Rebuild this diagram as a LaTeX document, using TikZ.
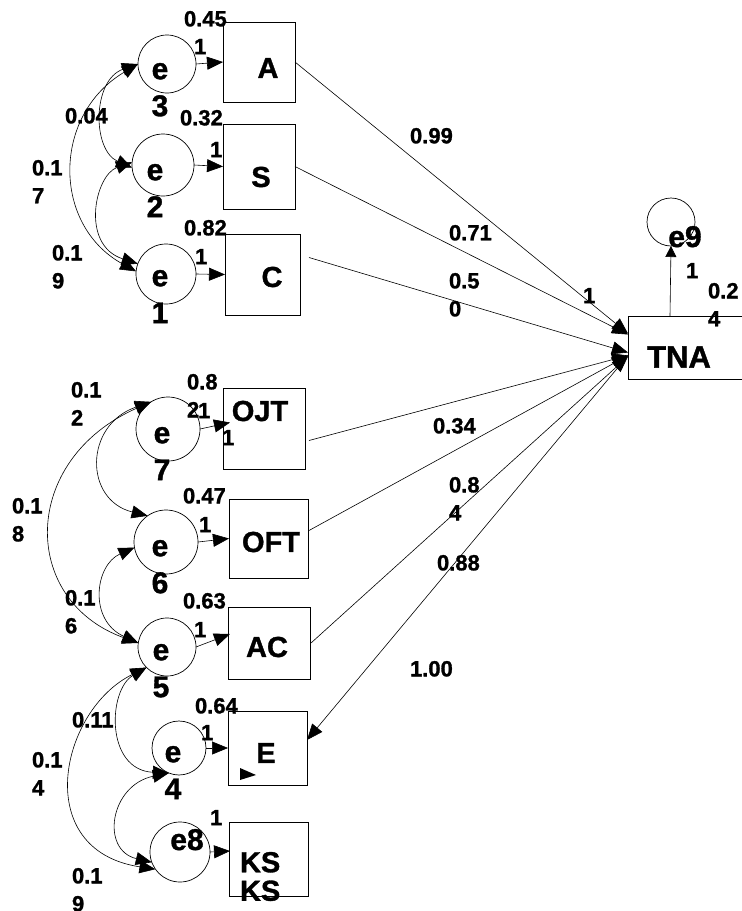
\documentclass[tikz,border=0pt]{standalone}
\usepackage{fontspec}
\setmainfont{Liberation Sans}[BoldFont={Liberation Sans Bold},BoldFeatures={FakeBold=1.2}]
\usetikzlibrary{arrows.meta,calc}
\begin{document}
\begin{tikzpicture}[x=1pt,y=-1pt,
  every node/.style={inner sep=0pt,outer sep=0pt},
  obs/.style={draw,line width=0.8pt,rectangle},
  err/.style={draw,circle,line width=0.7pt},
  boxlab/.style={font=\fontsize{29}{28.5}\selectfont\bfseries},
  elab/.style={font=\fontsize{30}{37}\selectfont\bfseries,align=center,anchor=north},
  ename/.style={font=\fontsize{30}{30}\selectfont\bfseries,anchor=base},
  num/.style={font=\fontsize{22}{28}\selectfont\bfseries,align=left,anchor=north west},
  reg/.style={line width=0.6pt,-{Triangle[length=16pt,width=13pt]}},
  cov/.style={line width=0.6pt,{Triangle[length=16pt,width=13pt]}-{Triangle[length=16pt,width=13pt]}},
]
\clip (0,0) rectangle (742,911);
\fill[white] (0,0) rectangle (742,911);

% observed variables
\node[obs,minimum width=72pt,minimum height=80pt] (A)   at (259,62) {};
\node[obs,minimum width=72pt,minimum height=85pt] (S)   at (259,166.5) {};
\node[obs,minimum width=75pt,minimum height=81pt] (C)   at (262.5,274.5) {};
\node[obs,minimum width=82pt,minimum height=81pt] (OJT) at (264,428.5) {};
\node[obs,minimum width=79pt,minimum height=79pt] (OFT) at (268.5,538.5) {};
\node[obs,minimum width=82pt,minimum height=72pt] (AC)  at (269,643) {};
\node[obs,minimum width=79pt,minimum height=74pt] (E)   at (267.5,748) {};
\node[obs,minimum width=79pt,minimum height=74pt] (KS)  at (268.5,859) {};
\node[obs,minimum width=142pt,minimum height=63pt] (TNA) at (699,347.5) {};

\node[boxlab] at (268,68) {A};
\node[boxlab] at (261,177) {S};
\node[boxlab] at (272,277) {C};
\node[boxlab] at (260,411) {OJT};
\node[boxlab] at (271,542) {OFT};
\node[boxlab] at (267,647) {AC};
\node[boxlab] at (266,753) {E};
\node[boxlab,align=left,anchor=north west] at (240,852) {KS\\KS};
\node[font=\fontsize{31}{31}\selectfont\bfseries] at (679,357) {TNA};

% error terms
\node[err,minimum size=58pt] (e3) at (167,64) {};
\node[err,minimum size=62pt] (e2) at (163,165) {};
\node[err,minimum size=60pt] (e1) at (166,274) {};
\node[err,minimum size=64pt] (e7) at (168,429) {};
\node[err,minimum size=64pt] (e6) at (166,542) {};
\node[err,minimum size=58pt] (e5) at (167,647) {};
\node[err,minimum size=54pt] (e4) at (179,748) {};
\node[err,minimum size=60pt] (e8) at (180,852) {};
\node[err,minimum size=48pt] (e9) at (671,222) {};

\node[elab] at (160,63) {e\\3};
\node[elab] at (155,164) {e\\2};
\node[elab] at (160,270) {e\\1};
\node[elab] at (162,427) {e\\7};
\node[elab] at (160,540) {e\\6};
\node[elab] at (161,644) {e\\5};
\node[elab] at (173,746) {e\\4};
\node[ename] at (187,850) {e8};
\node[ename] at (685,247) {e9};

% unit loadings from error terms
\draw[reg] (e3.east) -- (A.west);
\draw[reg] (e2.east) -- (S.west);
\draw[reg] (e1.east) -- (C.west);
\draw[reg] (e7.east) -- ($(OJT.west)+(7,-6)$);
\draw[reg] (e6.east) -- (OFT.west);
\draw[reg] (e5.east) -- ($(AC.west)+(2,-9)$);
\draw[reg] (e4.east) -- (E.west);
\draw[reg] (e8.east) -- ($(KS.west)+(1,-8)$);
\draw[line width=0.6pt,-{Triangle[length=11pt,width=11pt]}] ($(TNA.north)+(-29,0)$) -- (e9.south);

% paths into TNA
\draw[reg] (A.east) -- ($(TNA.west)+(0,-14)$);
\draw[reg] (S.east) -- ($(TNA.west)+(0,-13)$);
\draw[reg] ($(C.east)+(9,-17)$) -- ($(TNA.west)+(0,5)$);
\draw[reg] ($(OJT.east)+(4,12)$) -- ($(TNA.west)+(0,8)$);
\draw[reg] ($(OFT.east)+(1,-8)$) -- ($(TNA.west)+(0,8)$);
\draw[reg] ($(AC.east)+(1,0)$) -- ($(TNA.west)+(0,9)$);
\draw[reg] ($(TNA.west)+(0,8)$) -- ($(E.east)+(0,-8)$);
\fill (240,768) -- (256,775) -- (240,780) -- cycle;

% covariances, upper block
\draw[cov] (e3.west) .. controls (92,80) and (92,150) .. (e2.185);
\draw[cov] (e3.west) .. controls (52,115) and (52,225) .. (e1.175);
\draw[cov] (e2.175) .. controls (95,175) and (80,245) .. (e1.160);

% covariances, lower block
\draw[cov] (e7.122) .. controls (84,425) and (84,500) .. (e6.125);
\draw[cov] (e7.122) .. controls (20,460) and (20,600) .. (e5.172);
\draw[cov] (e6.190) .. controls (95,565) and (88,620) .. (e5.172);
\draw[cov] (e5.225) .. controls (108,690) and (105,770) .. (e4.248);
\draw[cov] (e5.225) .. controls (60,710) and (30,850) .. (e8.215);
\draw[cov] (e4.248) .. controls (110,785) and (100,850) .. (e8.200);

% estimates
\node[num] at (184,11) {0.45};
\node[num] at (194,39) {1};
\node[num] at (180,110) {0.32};
\node[num] at (210,142) {1};
\node[num] at (184,220) {0.82};
\node[num] at (195,249) {1};
\node[num] at (65,108) {0.04};
\node[num] at (32,160) {0.1\\7};
\node[num] at (52,245) {0.1\\9};
\node[num] at (410,128) {0.99};
\node[num] at (449,225) {0.71};
\node[num] at (449,273) {0.5\\0};
\node[num] at (583,288) {1};
\node[num] at (686,263) {1};
\node[num] at (708,283) {0.2\\4};
\node[num] at (187,374) {0.8\\2};
\node[num] at (198,403) {1};
\node[num] at (222,430) {1};
\node[num] at (183,488) {0.47};
\node[num] at (199,517) {1};
\node[num] at (183,593) {0.63};
\node[num] at (194,622) {1};
\node[num] at (71,382) {0.1\\2};
\node[num] at (12,498) {0.1\\8};
\node[num] at (65,590) {0.1\\6};
\node[num] at (72,712) {0.11};
\node[num] at (32,752) {0.1\\4};
\node[num] at (72,868) {0.1\\9};
\node[num] at (195,698) {0.64};
\node[num] at (201,725) {1};
\node[num] at (210,810) {1};
\node[num] at (433,418) {0.34};
\node[num] at (449,477) {0.8\\4};
\node[num] at (437,555) {0.88};
\node[num] at (410,661) {1.00};
\end{tikzpicture}
\end{document}
